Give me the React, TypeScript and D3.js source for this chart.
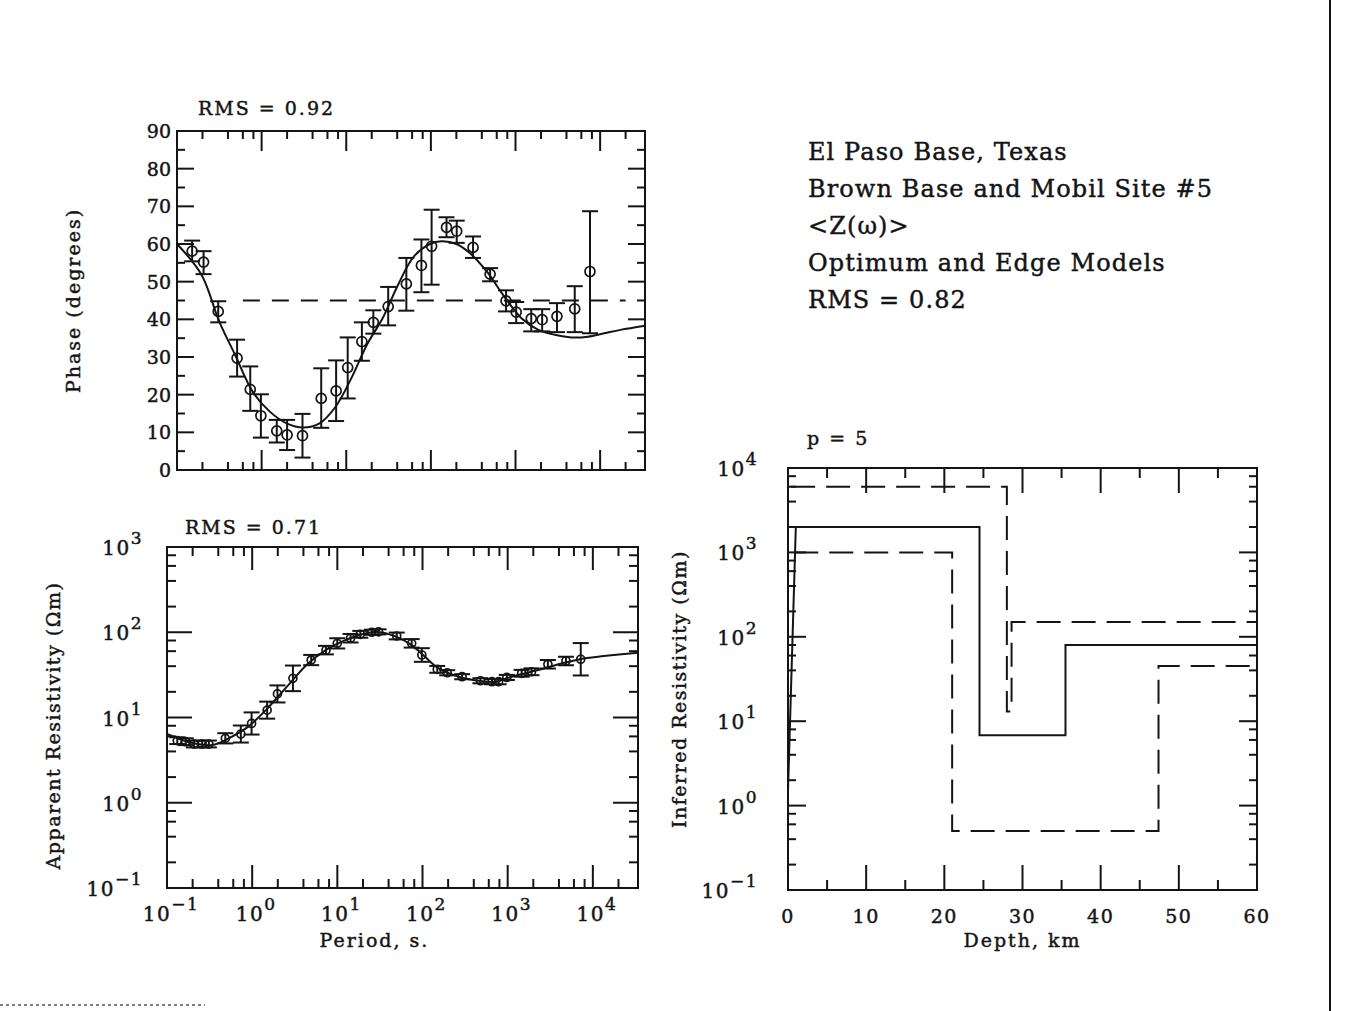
import React from 'react';
import * as d3 from 'd3';

// ---- phase data (period in s, phase in degrees) ----
const phasePeriods = [0.151, 0.206, 0.307, 0.513, 0.734, 0.98, 1.51, 2.0, 3.04, 5.06, 7.59, 10.4, 15.3, 20.9, 31.3, 51.3, 77.3, 102, 153, 202, 315, 501, 773, 1019, 1535, 2065, 3090, 5012, 7586];
const phaseValues = [58.1, 55.2, 42.1, 29.7, 21.4, 14.4, 10.4, 9.3, 9.1, 19.0, 21.0, 27.2, 34.1, 39.2, 43.4, 49.4, 54.3, 59.4, 64.4, 63.4, 59.1, 52.0, 44.9, 41.9, 40.2, 39.9, 40.8, 42.8, 52.7];
const phaseLow = [55.4, 52.0, 39.2, 24.8, 15.7, 8.6, 7.3, 5.3, 3.3, 11.2, 13.0, 19.0, 29.0, 36.2, 38.4, 42.3, 47.2, 49.2, 61.8, 60.3, 56.3, 50.1, 42.1, 39.0, 36.8, 36.8, 36.6, 36.6, 36.3];
const phaseHigh = [60.9, 58.1, 44.8, 34.6, 27.5, 20.1, 13.3, 13.3, 14.9, 27.0, 29.1, 35.2, 39.2, 42.4, 48.6, 56.3, 61.2, 69.1, 67.1, 66.2, 62.0, 53.6, 47.7, 44.6, 42.7, 42.7, 44.3, 48.8, 68.7];

const phaseFitPeriods = [0.1, 0.194, 0.316, 0.485, 0.783, 1.25, 1.97, 3.09, 4.84, 7.48, 11.5, 17.5, 26.9, 41.0, 63.1, 97.7, 133, 200, 288, 457, 735, 1175, 1862, 2917, 4571, 7178, 11220, 17380, 33900];
const phaseFitValues = [60.0, 51.9, 39.4, 30.6, 20.8, 15.5, 12.4, 11.3, 12.4, 16.8, 24.4, 33.2, 40.3, 49.2, 56.7, 60.0, 60.7, 60.0, 57.6, 52.7, 46.1, 40.3, 37.2, 35.9, 35.2, 35.4, 36.3, 37.2, 38.3];

const phaseRefPeriods = [0.6, 20000];
const phaseRefValue = 45;

// ---- apparent resistivity data (ohm m) ----
const resPeriods = [0.132, 0.166, 0.207, 0.259, 0.31, 0.484, 0.736, 0.984, 1.5, 1.98, 3.01, 4.93, 7.35, 9.98, 14.3, 18.6, 25.4, 30.5, 49.8, 74.6, 98.2, 149, 195, 292, 479, 655, 783, 977, 1459, 1905, 2965, 4831, 7211];
const resValues = [5.35, 5.2, 4.89, 4.89, 4.89, 5.7, 6.4, 8.51, 12.2, 18.9, 28.8, 47.2, 61.7, 74.1, 85.1, 94.6, 100, 101, 90.4, 74.1, 54.1, 36.7, 33.5, 30.1, 27.0, 26.3, 26.3, 29.5, 33.0, 34.4, 42.1, 46.0, 48.2];
const resErrLog = [0.04, 0.04, 0.04, 0.04, 0.04, 0.06, 0.1, 0.13, 0.1, 0.1, 0.15, 0.06, 0.05, 0.06, 0.05, 0.04, 0.03, 0.03, 0.04, 0.05, 0.08, 0.04, 0.03, 0.03, 0.03, 0.03, 0.03, 0.03, 0.04, 0.04, 0.05, 0.05, 0.19];

const resFitPeriods = [0.1, 0.2, 0.34, 0.53, 0.9, 1.51, 2.56, 4.32, 7.31, 12.4, 21.1, 30.2, 47.4, 74.6, 107, 155, 266, 456, 714, 1112, 2265, 4613, 7870, 13430, 33900];
const resFitValues = [6.41, 5.01, 4.76, 5.7, 7.82, 12.8, 23.0, 41.1, 61.7, 80.7, 96.6, 101, 89.9, 70.6, 51.5, 37.6, 30.1, 27.0, 26.3, 30.1, 36.0, 43.9, 49.3, 52.5, 57.5];

// ---- layered model (depth km, resistivity ohm m) ----
const modelDepths = [0, 1, 24.5, 24.5, 35.5, 35.5, 60];
const modelRho = [1.5, 2000, 2000, 6.8, 6.8, 80, 80];
const upperDepths = [0.4, 28, 28, 28.6, 28.6, 60];
const upperRho = [6000, 6000, 13, 13, 150, 150];
const lowerDepths = [0.8, 21, 21, 47.4, 47.4, 60];
const lowerRho = [1000, 1000, 0.5, 0.5, 45, 45];

// ---- ticks / labels ----
const PERIOD_MAX = 33900;
const phaseTicks = d3.range(0, 91, 5);
const decadeExps = [-1, 0, 1, 2, 3, 4];
const resExps = [-1, 0, 1, 2, 3];
const modelExps = [-1, 0, 1, 2, 3, 4];
const depthTicks = d3.range(0, 61, 5);
const titleLines = ['El Paso Base, Texas', 'Brown Base and Mobil Site #5', '<Z(\u03c9)>', 'Optimum and Edge Models', 'RMS = 0.82'];

const FONT = '"DejaVu Serif", "Liberation Serif", serif';
const INK = '#141414';
// scanned print looks heavier than the plain font
const txt = { fontFamily: FONT, fill: INK, stroke: INK, strokeWidth: 0.45 };

const phaseBox = { x0: 177, x1: 645, y0: 131, y1: 470 };
const resBox = { x0: 167, x1: 638, y0: 547, y1: 888 };
const modelBox = { x0: 788, x1: 1257, y0: 468, y1: 890 };

type Box = { x0: number; x1: number; y0: number; y1: number };
type Tick = { p: number; len: number };

function logTicks(lo: number, hi: number, major: number, minor: number): { v: number; len: number }[] {
  const out: { v: number; len: number }[] = [];
  for (let e = Math.floor(Math.log10(lo)); e <= Math.ceil(Math.log10(hi)); e++) {
    const m = Math.pow(10, e);
    if (m >= lo * 0.999 && m <= hi * 1.001) out.push({ v: m, len: major });
    [2, 4, 6, 8].forEach((k) => {
      if (k * m > lo && k * m < hi) out.push({ v: k * m, len: minor });
    });
  }
  return out;
}

function Frame({ box, xt, yt }: { box: Box; xt: Tick[]; yt: Tick[] }) {
  const { x0, x1, y0, y1 } = box;
  return (
    <g stroke={INK} strokeWidth={2} fill="none">
      <rect x={x0} y={y0} width={x1 - x0} height={y1 - y0} />
      {xt.map((t, i) => (
        <g key={'x' + i}>
          <line x1={t.p} x2={t.p} y1={y1} y2={y1 - t.len} />
          <line x1={t.p} x2={t.p} y1={y0} y2={y0 + t.len} />
        </g>
      ))}
      {yt.map((t, i) => (
        <g key={'y' + i}>
          <line x1={x0} x2={x0 + t.len} y1={t.p} y2={t.p} />
          <line x1={x1} x2={x1 - t.len} y1={t.p} y2={t.p} />
        </g>
      ))}
    </g>
  );
}

function Pow({ x, y, exp, anchor, size }: { x: number; y: number; exp: number; anchor: string; size: number }) {
  return (
    <text x={x} y={y} textAnchor={anchor} fontSize={size} {...txt} letterSpacing={1.5}>
      10
      <tspan dy={-11} fontSize={size * 0.85}>
        {exp < 0 ? '\u2212' + Math.abs(exp) : String(exp)}
      </tspan>
    </text>
  );
}

export default function App() {
  const W = 1348;
  const H = 1011;

  const xPh = d3.scaleLog().domain([0.1, PERIOD_MAX]).range([phaseBox.x0, phaseBox.x1]);
  const yPh = d3.scaleLinear().domain([0, 90]).range([phaseBox.y1, phaseBox.y0]);
  const xRes = d3.scaleLog().domain([0.1, PERIOD_MAX]).range([resBox.x0, resBox.x1]);
  const yRes = d3.scaleLog().domain([0.1, 1000]).range([resBox.y1, resBox.y0]);
  const xMod = d3.scaleLinear().domain([0, 60]).range([modelBox.x0, modelBox.x1]);
  const yMod = d3.scaleLog().domain([0.1, 10000]).range([modelBox.y1, modelBox.y0]);

  const phaseFit = d3
    .line<number>()
    .x((i) => xPh(phaseFitPeriods[i]))
    .y((i) => yPh(phaseFitValues[i]))
    .curve(d3.curveCatmullRom)(d3.range(phaseFitPeriods.length));

  const resFit = d3
    .line<number>()
    .x((i) => xRes(resFitPeriods[i]))
    .y((i) => yRes(resFitValues[i]))
    .curve(d3.curveCatmullRom)(d3.range(resFitPeriods.length));

  const stepLine = (ds: number[], rs: number[]) =>
    d3
      .line<number>()
      .x((i) => xMod(ds[i]))
      .y((i) => yMod(rs[i]))(d3.range(ds.length));

  const phXT = logTicks(0.1, PERIOD_MAX, 20, 8).map((t) => ({ p: xPh(t.v), len: t.len }));
  const phYT = phaseTicks.map((v) => ({ p: yPh(v), len: v % 10 === 0 ? 17 : 8 }));
  const resXT = logTicks(0.1, PERIOD_MAX, 23, 9).map((t) => ({ p: xRes(t.v), len: t.len }));
  const resYT = logTicks(0.1, 1000, 25, 9).map((t) => ({ p: yRes(t.v), len: t.len }));
  const modXT = depthTicks.map((v) => ({ p: xMod(v), len: v % 10 === 0 ? 25 : 10 }));
  const modYT = logTicks(0.1, 10000, 18, 8).map((t) => ({ p: yMod(t.v), len: t.len }));

  const cap = 8;

  return (
    <svg width={W} height={H} style={{ position: 'absolute', left: 0, top: 0, background: '#fff' }}>
      <rect width={W} height={H} fill="#fff" />
      {/* page border */}
      <line x1={1330} x2={1330} y1={0} y2={H} stroke={INK} strokeWidth={2} />
      <line x1={0} x2={205} y1={1005} y2={1005} stroke="#555" strokeWidth={1.5} strokeDasharray="3,3" />

      {/* ---------- phase panel ---------- */}
      <Frame box={phaseBox} xt={phXT} yt={phYT} />
      {phaseTicks
        .filter((v) => v % 10 === 0)
        .map((v) => (
          <text key={v} x={phaseBox.x0 - 6} y={yPh(v) + 7} textAnchor="end" fontSize={19} {...txt}>
            {v}
          </text>
        ))}
      <text x={198} y={115} fontSize={19} {...txt} letterSpacing={2}>
        RMS = 0.92
      </text>
      <text
        transform={`translate(80,${(phaseBox.y0 + phaseBox.y1) / 2}) rotate(-90)`}
        textAnchor="middle"
        fontSize={19}
        {...txt}
        letterSpacing={2}
      >
        Phase (degrees)
      </text>
      <path
        d={d3.line()([
          [xPh(phaseRefPeriods[0]), yPh(phaseRefValue)],
          [xPh(phaseRefPeriods[1]), yPh(phaseRefValue)],
        ]) as string}
        stroke={INK}
        strokeWidth={2}
        strokeDasharray="17,12"
        fill="none"
      />
      <path d={phaseFit as string} stroke={INK} strokeWidth={2} fill="none" />
      <g stroke={INK} strokeWidth={2} fill="none">
        {phasePeriods.map((p, i) => {
          const x = xPh(p);
          return (
            <g key={i}>
              <line x1={x} x2={x} y1={yPh(phaseLow[i])} y2={yPh(phaseHigh[i])} />
              <line x1={x - cap} x2={x + cap} y1={yPh(phaseLow[i])} y2={yPh(phaseLow[i])} />
              <line x1={x - cap} x2={x + cap} y1={yPh(phaseHigh[i])} y2={yPh(phaseHigh[i])} />
              <circle cx={x} cy={yPh(phaseValues[i])} r={5} strokeWidth={1.7} />
            </g>
          );
        })}
      </g>

      {/* ---------- apparent resistivity panel ---------- */}
      <Frame box={resBox} xt={resXT} yt={resYT} />
      {resExps.map((e) => (
        <Pow key={e} x={resBox.x0 - 24} y={yRes(Math.pow(10, e)) + 8} exp={e} anchor="end" size={20} />
      ))}
      {decadeExps.map((e) => (
        <Pow key={e} x={xRes(Math.pow(10, e)) + 4} y={921} exp={e} anchor="middle" size={20} />
      ))}
      <text x={(resBox.x0 + resBox.x1) / 2 - 28} y={947} textAnchor="middle" fontSize={19} {...txt} letterSpacing={2}>
        Period, s.
      </text>
      <text x={185} y={534} fontSize={19} {...txt} letterSpacing={2}>
        RMS = 0.71
      </text>
      <text
        transform={`translate(60,${(resBox.y0 + resBox.y1) / 2 + 8}) rotate(-90)`}
        textAnchor="middle"
        fontSize={19}
        {...txt}
        letterSpacing={1.5}
      >
        Apparent Resistivity ({'\u03a9'}m)
      </text>
      <path d={resFit as string} stroke={INK} strokeWidth={2} fill="none" />
      <g stroke={INK} strokeWidth={2} fill="none">
        {resPeriods.map((p, i) => {
          const x = xRes(p);
          const lo = yRes(resValues[i] / Math.pow(10, resErrLog[i]));
          const hi = yRes(resValues[i] * Math.pow(10, resErrLog[i]));
          return (
            <g key={i}>
              <line x1={x} x2={x} y1={lo} y2={hi} />
              <line x1={x - cap} x2={x + cap} y1={lo} y2={lo} />
              <line x1={x - cap} x2={x + cap} y1={hi} y2={hi} />
              <circle cx={x} cy={yRes(resValues[i])} r={4} strokeWidth={1.7} />
            </g>
          );
        })}
      </g>

      {/* ---------- model panel ---------- */}
      <Frame box={modelBox} xt={modXT} yt={modYT} />
      {modelExps.map((e) => (
        <Pow key={e} x={modelBox.x0 - 30} y={yMod(Math.pow(10, e)) + 8} exp={e} anchor="end" size={20} />
      ))}
      {depthTicks
        .filter((v) => v % 10 === 0)
        .map((v) => (
          <text key={v} x={xMod(v)} y={923} textAnchor="middle" fontSize={19} {...txt} letterSpacing={1.5}>
            {v}
          </text>
        ))}
      <text x={(modelBox.x0 + modelBox.x1) / 2} y={947} textAnchor="middle" fontSize={19} {...txt} letterSpacing={2}>
        Depth, km
      </text>
      <text x={807} y={445} fontSize={19} {...txt} letterSpacing={2}>
        p = 5
      </text>
      <text
        transform={`translate(686,${(modelBox.y0 + modelBox.y1) / 2 + 10}) rotate(-90)`}
        textAnchor="middle"
        fontSize={19}
        {...txt}
        letterSpacing={1.5}
      >
        Inferred Resistivity ({'\u03a9'}m)
      </text>
      <path d={stepLine(upperDepths, upperRho) as string} stroke={INK} strokeWidth={2} fill="none" strokeDasharray="24,11" />
      <path d={stepLine(lowerDepths, lowerRho) as string} stroke={INK} strokeWidth={2} fill="none" strokeDasharray="24,11" />
      <path d={stepLine(modelDepths, modelRho) as string} stroke={INK} strokeWidth={2} fill="none" />

      {/* ---------- annotation block ---------- */}
      {titleLines.map((t, i) => (
        <text key={i} x={808} y={160 + i * 37} fontSize={24} {...txt} letterSpacing={1.1}>
          {t}
        </text>
      ))}
    </svg>
  );
}
